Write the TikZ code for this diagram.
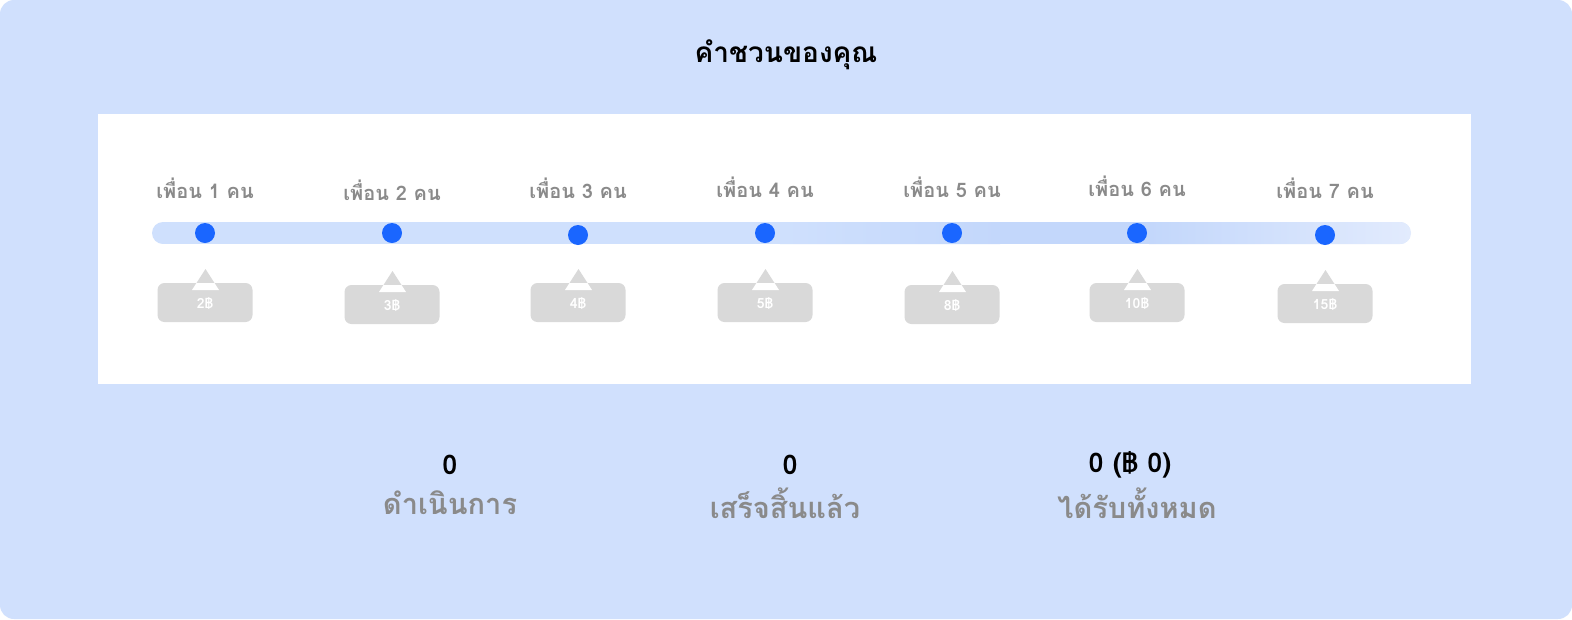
\documentclass[tikz,border=0pt]{standalone}
\usepackage{fontspec}
\newfontfamily\thai[Script=Thai]{Loma}
\definecolor{bg}{HTML}{D0E0FD}
\definecolor{trackc}{HTML}{CFE0FD}
\definecolor{trackd}{HTML}{C3D7FB}
\definecolor{trackl}{HTML}{E2EBFD}
\definecolor{dotblue}{HTML}{1A66FF}
\definecolor{lblgray}{HTML}{8A8A8A}
\definecolor{boxgray}{HTML}{D9D9D9}
\begin{document}
\begin{tikzpicture}[x=1pt,y=-1pt,
  title/.style={font=\thai\bfseries\fontsize{28}{32}\selectfont, text=black, inner sep=0},
  lbl/.style={font=\thai\bfseries\fontsize{20}{24}\selectfont, text=lblgray, inner sep=0},
  dot/.style={circle, fill=dotblue, minimum size=20pt, inner sep=0},
  tipbox/.style={rounded corners=7pt, fill=boxgray, minimum width=95pt, minimum height=39pt, inner sep=0},
  tiptext/.style={font=\thai\bfseries\fontsize{14}{16}\selectfont, text=white, inner sep=0},
  stat/.style={font=\thai\bfseries\fontsize{27}{30}\selectfont, text=black, inner sep=0},
  statlbl/.style={font=\thai\bfseries\fontsize{29}{34}\selectfont, text=lblgray, inner sep=0}]
\useasboundingbox (0,0) rectangle (1572,619);
\fill[white] (0,0) rectangle (1572,619);
\fill[bg, rounded corners=14pt] (0,0) rectangle (1572,619);
\fill[white] (98,114) rectangle (1471,384);
\node[title] (title) at (786,55) {คำชวนของคุณ};
% track
\begin{scope}
  \clip[rounded corners=11pt] (152,222) rectangle (1411,244);
  \fill[trackc] (152,222) rectangle (1411,244);
  \shade[left color=trackc, right color=trackd] (780,222) rectangle (1000,244);
  \fill[trackd] (999,222) rectangle (1150,244);
  \shade[left color=trackd, right color=trackl] (1149,222) rectangle (1411,244);
\end{scope}
\foreach \i/\x/\ly/\dy/\bt/\val in {1/205/188/233/283/2฿, 2/392/190/233/285/3฿, 3/578/188/235/283/4฿, 4/765/187/233/283/5฿, 5/952/187/233/285/8฿, 6/1137/186/233/283/10฿, 7/1325/188/235/284/15฿} {
  \node[lbl] (lbl\i) at (\x,\ly) {เพื่อน \i\ คน};
  \node[dot] (dot\i) at (\x,\dy) {};
  \node[tipbox] (box\i) at (\x,\bt+19.5) {};
  \fill[boxgray] (\x+0.5,\bt-14) -- (\x-8.5,\bt) -- (\x+9.5,\bt) -- cycle;
  \fill[white] (\x-8.5,\bt) -- (\x+9.5,\bt) -- (\x+14,\bt+7) -- (\x-13,\bt+7) -- cycle;
  \node[tiptext] (val\i) at (\x,\bt+20) {\val};
}
% stats
\node[stat] (s1) at (450,465) {0};
\node[statlbl] (l1) at (450,503) {ดำเนินการ};
\node[stat] (s2) at (790,465) {0};
\node[statlbl] (l2) at (785,503) {เสร็จสิ้นแล้ว};
\node[stat] (s3) at (1130,465) {0 (฿ 0)};
\node[statlbl] (l3) at (1137,503) {ได้รับทั้งหมด};
\end{tikzpicture}
\end{document}
